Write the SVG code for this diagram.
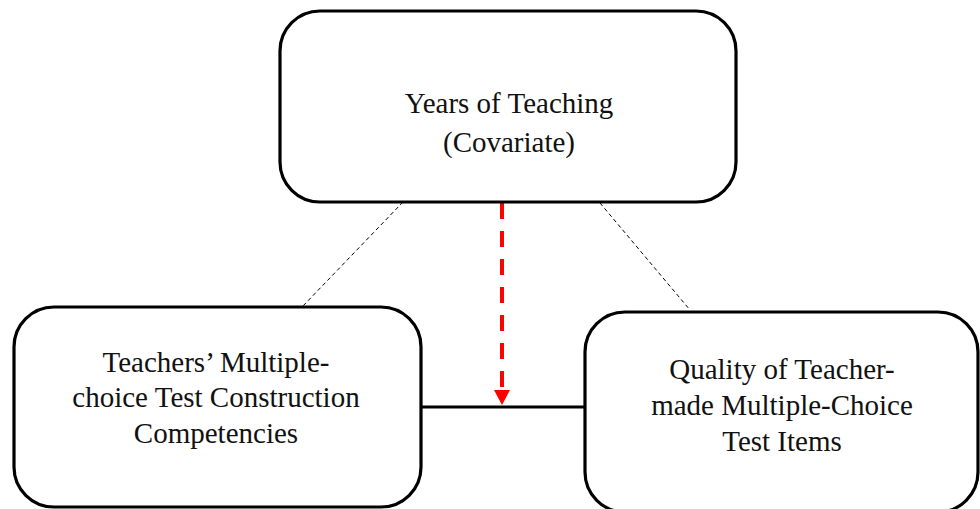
<svg xmlns="http://www.w3.org/2000/svg" width="980" height="509" viewBox="0 0 980 509">
  <defs>
    <marker id="redHead" viewBox="0 0 16 16" markerWidth="16" markerHeight="16" refX="8" refY="15" orient="auto" markerUnits="userSpaceOnUse">
      <path d="M0,0 L16,0 L8,15 Z" fill="#ff0000"/>
    </marker>
    <style>
      .box { fill: #ffffff; stroke: #000000; stroke-width: 3.2; }
      .label { font-family: "Liberation Serif", "Times New Roman", serif; font-size: 29px; fill: #111111; text-anchor: middle; }
      .thin { stroke: #000000; stroke-width: 1; stroke-dasharray: 4 3; fill: none; }
      .solid { stroke: #000000; stroke-width: 3; fill: none; }
      .moderator { stroke: #ff0000; stroke-width: 4; stroke-dasharray: 16 12; fill: none; }
    </style>
  </defs>
  <rect width="980" height="509" fill="#ffffff"/>

  <g id="connectors">
    <line class="thin" x1="403" y1="202" x2="302" y2="307"/>
    <line class="thin" x1="600" y1="203" x2="690" y2="310"/>
    <line class="solid" x1="421" y1="407" x2="585" y2="407"/>
    <line class="moderator" x1="502" y1="203" x2="502" y2="390"/>
    <path d="M494,390 L510,390 L502,405 Z" fill="#ff0000"/>
  </g>

  <g id="years-of-teaching">
    <rect class="box" x="280" y="11" width="456" height="191" rx="40" ry="40"/>
    <text class="label" x="509" y="113">Years of Teaching</text>
    <text class="label" x="509" y="152">(Covariate)</text>
  </g>

  <g id="test-construction-competencies">
    <rect class="box" x="14" y="307" width="407" height="200" rx="40" ry="40"/>
    <text class="label" x="216" y="372">Teachers’ Multiple-</text>
    <text class="label" x="216" y="407">choice Test Construction</text>
    <text class="label" x="216" y="443">Competencies</text>
  </g>

  <g id="test-item-quality">
    <rect class="box" x="585" y="312" width="393" height="200" rx="40" ry="40"/>
    <text class="label" x="782" y="379">Quality of Teacher-</text>
    <text class="label" x="782" y="415">made Multiple-Choice</text>
    <text class="label" x="782" y="451">Test Items</text>
  </g>
</svg>
